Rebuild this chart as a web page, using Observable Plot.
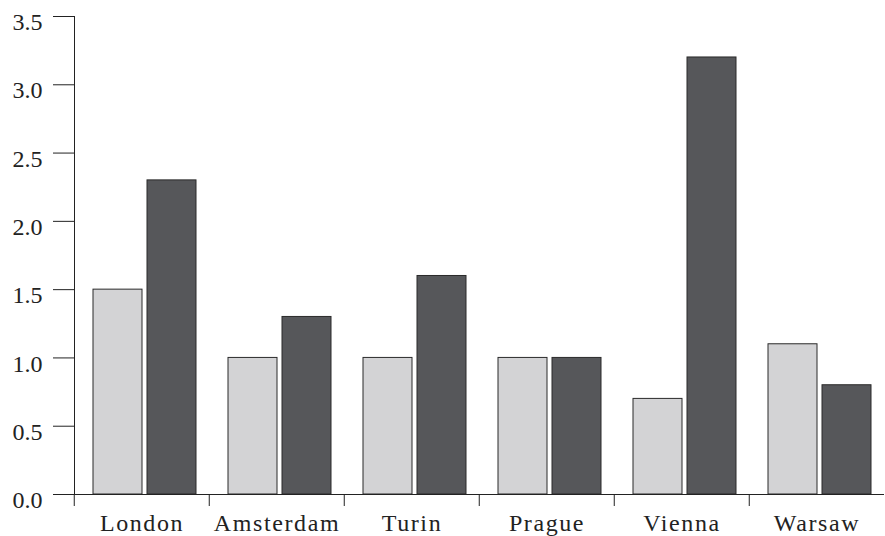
<!DOCTYPE html>
<html>
<head>
<meta charset="utf-8">
<script src="https://cdn.jsdelivr.net/npm/d3@7"></script>
<script src="https://cdn.jsdelivr.net/npm/@observablehq/plot@0.6"></script>
<style>
  html, body { margin: 0; padding: 0; background: #fff; }
  svg { display: block; }
  g[aria-label="fx-axis tick label"] text { letter-spacing: 1.6px; }
</style>
</head>
<body>
<div id="chart"></div>
<script>
const cities = ["London", "Amsterdam", "Turin", "Prague", "Vienna", "Warsaw"];
const series = ["light", "dark"];
const lightValues = [1.5, 1.0, 1.0, 1.0, 0.7, 1.1];
const darkValues = [2.3, 1.3, 1.6, 1.0, 3.2, 0.8];
const yTicks = [0, 0.5, 1.0, 1.5, 2.0, 2.5, 3.0, 3.5];

const data = cities.flatMap((c, i) => [
  {city: c, series: "light", value: lightValues[i]},
  {city: c, series: "dark", value: darkValues[i]}
]);

const W = 885, H = 536, ML = 72, MR = 0;
const halfBand = (W - ML - MR) / cities.length / 2;
const fmt = d3.format(".1f");

const chart = Plot.plot({
  width: W,
  height: H,
  marginTop: 16,
  marginBottom: 42,
  marginLeft: ML,
  marginRight: MR,
  style: {fontFamily: "'Liberation Serif', serif", fontSize: "24px", color: "#222", background: "#fff"},
  facet: {marginTop: 0, marginBottom: 0, marginLeft: 0, marginRight: 0},
  fx: {domain: cities, padding: 0, axis: null, label: null},
  x: {domain: series, paddingInner: 0.092, paddingOuter: 0.289, align: 0.6, axis: null, label: null},
  y: {domain: [0, 3.5], ticks: yTicks, tickSize: 21, tickFormat: () => "", line: true, label: null},
  color: {domain: series, range: ["#d3d3d5", "#56575a"]},
  marks: [
    Plot.barY(data, {fx: "city", x: "series", y: "value", fill: "series", stroke: "#2a2a2a", strokeWidth: 1}),
    Plot.ruleY([0], {stroke: "#222", strokeWidth: 1.2}),
    Plot.text(yTicks, {fx: () => cities[0], y: d => d, text: d => fmt(d), frameAnchor: "left", textAnchor: "end", dx: -32, dy: 6, fontSize: 24, fill: "#222"}),
    Plot.axisFx({anchor: "bottom", tickSize: 12, tickFormat: () => "", dx: -halfBand, stroke: "#222", label: null}),
    Plot.axisFx({anchor: "bottom", tickSize: 0, tickPadding: 19, fontSize: 24, label: null})
  ]
});
document.getElementById("chart").appendChild(chart);
</script>
</body>
</html>
